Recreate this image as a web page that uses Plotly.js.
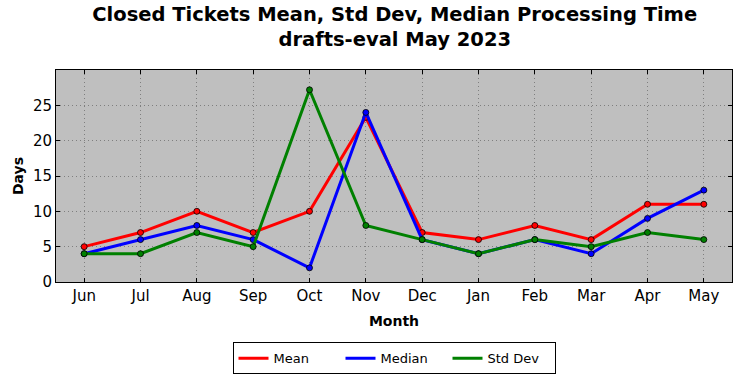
<!DOCTYPE html>
<html><head><meta charset="utf-8">
<script src="https://cdn.plot.ly/plotly-3.0.1.min.js"></script>
<style>body{margin:0;background:#fff}#c{width:742px;height:378px}</style>
</head><body><div id="c"></div>
<script>
const months = ["Jun","Jul","Aug","Sep","Oct","Nov","Dec","Jan","Feb","Mar","Apr","May"];
const meanVals = [5,7,10,7,10,23.3,7,6,8,6,11,11];
const medianVals = [4,6,8,6,2,24,6,4,6,4,9,13];
const stdVals = [4,4,7,5,27.2,8,6,4,6,5,7,6];
const yTicks = [0,5,10,15,20,25];
const seriesNames = ['Mean','Median','Std Dev'];
const seriesColors = ['#ff0000','#0000ff','#008000'];
const seriesVals = [meanVals, medianVals, stdVals];

const data = [];
seriesVals.forEach((y,k)=>{
  data.push({x: months.map((m,i)=>i), y: y, name: seriesNames[k], type:'scatter', mode:'lines+markers', showlegend:false,
    line:{color:seriesColors[k], width:3}, marker:{color:seriesColors[k], size:6, line:{color:'#000', width:0.8}}});
});
seriesVals.forEach((y,k)=>{
  data.push({x:[null], y:[null], name: seriesNames[k], type:'scatter', mode:'lines', showlegend:true,
    line:{color:seriesColors[k], width:3}});
});
const font = {family:'DejaVu Sans', color:'#000'};
const ax = {showgrid:true, gridcolor:'#7f7f7f', griddash:'1px,3px', gridwidth:1,
    showline:true, mirror:'ticks', linecolor:'#000', linewidth:1, ticks:'inside', ticklen:4, tickcolor:'#000', zeroline:false, automargin:false};
const layout = {
  width:742, height:378, margin:{l:56, r:10, t:70, b:96, autoexpand:false},
  paper_bgcolor:'#fff', plot_bgcolor:'#bfbfbf', font: font,
  title:{text:'<b>Closed Tickets Mean, Std Dev, Median Processing Time<br>drafts-eval May 2023</b>', font:{family:'DejaVu Sans', size:19.5, color:'#000'}, x:0.532, xanchor:'center', y:0.945, yanchor:'top'},
  xaxis:Object.assign({}, ax, {range:[-0.5,11.5], tickvals: months.map((m,i)=>i), ticktext: months, tickfont:{size:15},
    title:{text:'<b>Month</b>', font:{size:14}, standoff:12}}),
  yaxis:Object.assign({}, ax, {range:[0,30], tickvals: yTicks, tickfont:{size:15},
    title:{text:'<b>Days</b>', font:{size:14}, standoff:6}}),
  showlegend:true,
  legend:{orientation:'h', x:0.5, xanchor:'center', y:-0.285, yanchor:'top', bordercolor:'#000', borderwidth:1,
    font:{size:13}, bgcolor:'#fff', itemwidth:30, entrywidth:62, tracegroupgap:0}
};
Plotly.newPlot('c', data, layout, {displayModeBar:false});
</script></body></html>
